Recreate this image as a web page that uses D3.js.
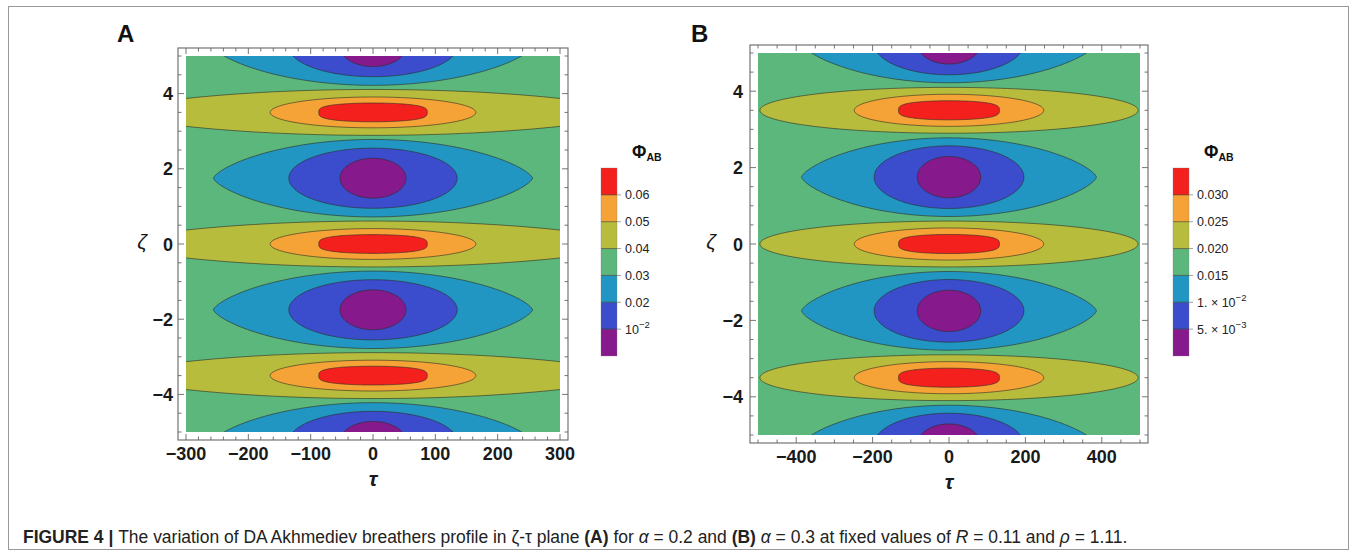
<!DOCTYPE html>
<html><head><meta charset="utf-8">
<script src="https://cdn.jsdelivr.net/npm/d3@7"></script>
<style>
body{margin:0;background:#fff}
svg{display:block}
text{font-family:"Liberation Sans",Arial,Helvetica,sans-serif}
</style>
</head><body>
<svg id="c" width="1356" height="556"></svg>
<script>
// ---------- data ----------
// band colours, lowest band first
const bandColors = ["#86198b","#3b4ccc","#2196c3","#5bb77b","#b8bc3d","#f5a336","#f3201e"];

// Panel A  (alpha = 0.2)
const tauDomainA = [-300, 300];
const zetaDomain = [-5, 5];
const levelsA = [0.01, 0.02, 0.03, 0.04, 0.05, 0.06];
const levelLabelsA = [["10","−2"], ["0.02"], ["0.03"], ["0.04"], ["0.05"], ["0.06"]];
const humpCentersA = [-3.5, 0, 3.5];          // zeta of maxima
const dipCentersA  = [-5.25, -1.75, 1.75, 5.25]; // zeta of minima
const humpBands = [4, 5, 6];                 // yellow, orange, red
const dipBands  = [2, 1, 0];                 // blue, dark blue, purple
const humpHalfTauA  = [420, 165, 87];
const humpHalfZetaA = [0.61, 0.41, 0.25];
const humpShapeA    = [0.70, 0.50, 0.30];
const dipHalfTauA   = [256, 135, 53];
const dipHalfZetaA  = [1.03, 0.80, 0.53];
const dipShapeA     = [0.70, 0.50, 0.50];
const xTicksA = [-300, -200, -100, 0, 100, 200, 300];

// Panel B  (alpha = 0.3)
const tauDomainB = [-500, 500];
const levelsB = [0.005, 0.010, 0.015, 0.020, 0.025, 0.030];
const levelLabelsB = [["5. × 10","−3"], ["1. × 10","−2"], ["0.015"], ["0.020"], ["0.025"], ["0.030"]];
const humpCentersB = [-3.5, 0, 3.5];
const dipCentersB  = [-5.25, -1.75, 1.75, 5.25];
const humpHalfTauB  = [495, 248, 132];
const humpHalfZetaB = [0.60, 0.42, 0.25];
const humpShapeB    = [0.50, 0.50, 0.30];
const dipHalfTauB   = [386, 196, 83];
const dipHalfZetaB  = [1.03, 0.82, 0.54];
const dipShapeB     = [0.70, 0.50, 0.50];
const xTicksB = [-400, -200, 0, 200, 400];

const yTicks = [-4, -2, 0, 2, 4];

// ---------- drawing ----------
const svg = d3.select("#c");
const frameColor = "#666";
const contourStroke = "rgba(45,45,35,0.6)";

function lensPoints(cz, W, H, p){
  const pts = [];
  const N = 160;
  for (let i = 0; i < N; i++){
    const th = 2*Math.PI*i/N;
    const s = Math.sin(th);
    pts.push([W*Math.cos(th), cz + Math.sign(s)*Math.pow(Math.abs(s), 2*p)*H]);
  }
  return pts;
}

function panel(cfg){
  const x = d3.scaleLinear().domain(cfg.tauDomain).range(cfg.xRange);
  const y = d3.scaleLinear().domain(zetaDomain).range(cfg.yRange);
  const g = svg.append("g");
  const clipId = "clip" + cfg.id;
  svg.append("defs").append("clipPath").attr("id", clipId)
    .append("rect")
    .attr("x", x(cfg.tauDomain[0])).attr("y", y(5))
    .attr("width", x(cfg.tauDomain[1]) - x(cfg.tauDomain[0]))
    .attr("height", y(-5) - y(5));
  const plot = g.append("g").attr("clip-path", `url(#${clipId})`);
  plot.append("rect")
    .attr("x", x(cfg.tauDomain[0])).attr("y", y(5))
    .attr("width", x(cfg.tauDomain[1]) - x(cfg.tauDomain[0]))
    .attr("height", y(-5) - y(5))
    .attr("fill", bandColors[3]);
  const line = d3.line().x(d => x(d[0])).y(d => y(d[1])).curve(d3.curveLinearClosed);
  function features(centers, bands, W, H, P){
    centers.forEach(cz => {
      bands.forEach((b, k) => {
        plot.append("path")
          .attr("d", line(lensPoints(cz, W[k], H[k], P[k])))
          .attr("fill", bandColors[b])
          .attr("stroke", contourStroke)
          .attr("stroke-width", 1);
      });
    });
  }
  features(cfg.humpCenters, humpBands, cfg.humpW, cfg.humpH, cfg.humpP);
  features(cfg.dipCenters, dipBands, cfg.dipW, cfg.dipH, cfg.dipP);

  // frame
  const fl = x(cfg.tauDomain[0]) - cfg.pad, fr = x(cfg.tauDomain[1]) + cfg.pad;
  const ft = y(5) - cfg.pad, fb = y(-5) + cfg.pad;
  g.append("rect").attr("x", fl).attr("y", ft).attr("width", fr - fl).attr("height", fb - ft)
    .attr("fill", "none").attr("stroke", frameColor).attr("stroke-width", 1.1);

  // ticks
  const tk = g.append("g").attr("stroke", frameColor).attr("stroke-width", 0.9);
  const minorX = d3.range(cfg.tauDomain[0], cfg.tauDomain[1] + 1e-9, cfg.minorStep);
  minorX.forEach(v => {
    const major = Math.abs(v / cfg.majorStep - Math.round(v / cfg.majorStep)) < 1e-6;
    const L = major ? 6 : 3.5;
    tk.append("line").attr("x1", x(v)).attr("x2", x(v)).attr("y1", fb).attr("y2", fb - L);
    tk.append("line").attr("x1", x(v)).attr("x2", x(v)).attr("y1", ft).attr("y2", ft + L);
  });
  d3.range(-5, 5.0001, 0.5).forEach(v => {
    const major = Math.abs(v/2 - Math.round(v/2)) < 1e-6;
    const L = major ? 6 : 3.5;
    tk.append("line").attr("y1", y(v)).attr("y2", y(v)).attr("x1", fl).attr("x2", fl + L);
    tk.append("line").attr("y1", y(v)).attr("y2", y(v)).attr("x1", fr).attr("x2", fr - L);
  });

  // tick labels
  const fmt = v => (v < 0 ? "−" : "") + Math.abs(v);
  g.selectAll(null).data(cfg.xTicks).enter().append("text")
    .attr("x", d => x(d)).attr("y", fb + 20)
    .attr("text-anchor", "middle").attr("font-size", 18).attr("font-weight", "bold")
    .attr("fill", "#1a1a1a").text(fmt);
  g.selectAll(null).data(yTicks).enter().append("text")
    .attr("x", fl - cfg.yLabelGap).attr("y", d => y(d) + 6.5)
    .attr("text-anchor", "end").attr("font-size", 18).attr("font-weight", "bold")
    .attr("fill", "#1a1a1a").text(fmt);

  // axis titles
  g.append("text").attr("x", x(0)).attr("y", fb + 46)
    .attr("text-anchor", "middle").attr("font-size", 21).attr("font-style", "italic").attr("font-weight", "bold")
    .attr("fill", "#1a1a1a").text("τ");
  g.append("text").attr("x", cfg.zetaX).attr("y", y(0) + 5)
    .attr("text-anchor", "middle").attr("font-size", 21).attr("font-style", "italic")
    .attr("fill", "#1a1a1a").text("ζ");

  // panel letter
  g.append("text").attr("x", cfg.letterX).attr("y", 42)
    .attr("font-size", 24).attr("font-weight", "bold").attr("fill", "#111").text(cfg.id);

  // legend
  const lg = svg.append("g");
  const top = cfg.levels[cfg.levels.length-1] + (cfg.levels[1]-cfg.levels[0]);
  const ly = d3.scaleLinear().domain([0, top]).range([356, 168]);
  const edges = [0].concat(cfg.levels).concat([top]);
  bandColors.forEach((c, i) => {
    lg.append("rect").attr("x", cfg.legendX).attr("y", ly(edges[i+1]))
      .attr("width", 16).attr("height", ly(edges[i]) - ly(edges[i+1]))
      .attr("fill", c);
  });
  cfg.levels.forEach((lv, i) => {
    lg.append("line").attr("x1", cfg.legendX).attr("x2", cfg.legendX + 16)
      .attr("y1", ly(lv)).attr("y2", ly(lv)).attr("stroke", contourStroke).attr("stroke-width", 1);
    lg.append("line").attr("x1", cfg.legendX + 16).attr("x2", cfg.legendX + 20)
      .attr("y1", ly(lv)).attr("y2", ly(lv)).attr("stroke", "#888").attr("stroke-width", 0.8);
    const t = lg.append("text").attr("x", cfg.legendX + 24).attr("y", ly(lv) + 4.5)
      .attr("font-size", 12.5).attr("fill", "#222");
    const lab = cfg.levelLabels[i];
    t.append("tspan").text(lab[0]);
    if (lab.length > 1) t.append("tspan").attr("dy", -6).attr("font-size", 9.5).text(lab[1]);
  });
  lg.append("rect").attr("x", cfg.legendX).attr("y", 168).attr("width", 16).attr("height", 188)
    .attr("fill", "none").attr("stroke", "rgba(120,120,120,0.5)").attr("stroke-width", 0.6);
  const tt = lg.append("text").attr("x", cfg.legendX + 31).attr("y", 158).attr("fill", "#111")
    .attr("font-weight", "bold");
  tt.append("tspan").attr("font-size", 17.5).text("Φ");
  tt.append("tspan").attr("font-size", 10.5).attr("dy", 3).text("AB");
}

panel({id:"A", tauDomain: tauDomainA, xRange:[186, 560], yRange:[432, 56], pad: 8,
  humpCenters: humpCentersA, dipCenters: dipCentersA,
  humpW: humpHalfTauA, humpH: humpHalfZetaA, humpP: humpShapeA,
  dipW: dipHalfTauA, dipH: dipHalfZetaA, dipP: dipShapeA,
  minorStep: 20, majorStep: 100, xTicks: xTicksA, yLabelGap: 5, zetaX: 142, letterX: 117,
  levels: levelsA, levelLabels: levelLabelsA, legendX: 601});

panel({id:"B", tauDomain: tauDomainB, xRange:[758, 1140], yRange:[435, 53], pad: 8,
  humpCenters: humpCentersB, dipCenters: dipCentersB,
  humpW: humpHalfTauB, humpH: humpHalfZetaB, humpP: humpShapeB,
  dipW: dipHalfTauB, dipH: dipHalfZetaB, dipP: dipShapeB,
  minorStep: 50, majorStep: 200, xTicks: xTicksB, yLabelGap: 7, zetaX: 711, letterX: 691,
  levels: levelsB, levelLabels: levelLabelsB, legendX: 1173});

// figure border
svg.append("rect").attr("x", 8.5).attr("y", 6.5).attr("width", 1340).attr("height", 543)
  .attr("fill", "none").attr("stroke", "#999").attr("stroke-width", 1);

// caption
const cap = svg.append("text").attr("x", 23).attr("y", 543).attr("font-size", 15).attr("fill", "#222");
const parts = [
  ["FIGURE 4 | ", "bold", "normal"],
  ["The variation of DA Akhmediev breathers profile in ζ-τ plane ", "normal", "normal"],
  ["(A)", "bold", "normal"], [" for ", "normal", "normal"], ["α", "normal", "italic"],
  [" = 0.2 and ", "normal", "normal"], ["(B)", "bold", "normal"], [" ", "normal", "normal"],
  ["α", "normal", "italic"], [" = 0.3 at fixed values of ", "normal", "normal"],
  ["R", "normal", "italic"], [" = 0.11 and ", "normal", "normal"], ["ρ", "normal", "italic"],
  [" = 1.11.", "normal", "normal"]
];
parts.forEach(p => cap.append("tspan").attr("font-weight", p[1]).attr("font-style", p[2])
  .attr("xml:space", "preserve").style("white-space", "pre").text(p[0]));
const w = cap.node().getComputedTextLength();
cap.attr("font-size", 15 * 1105 / w);
</script>
</body></html>
